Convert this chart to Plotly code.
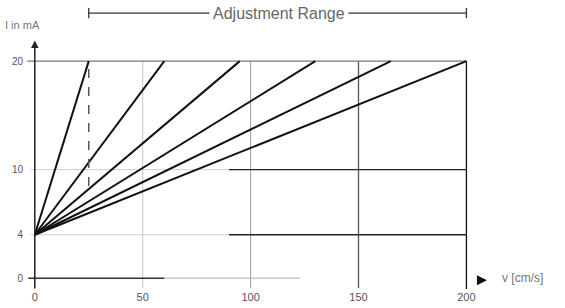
import plotly.graph_objects as go

# ---- data ----
i_start = 4                       # mA at v = 0
i_end = 20                        # mA at full scale
v_full_scale = [25, 60, 95, 130, 165, 200]   # cm/s, end point of each characteristic
dashed_v = 25
dashed_i = [8.5, 20]
x_ticks = [0, 50, 100, 150, 200]
x_tick_text = ["0", "50", "100", "150", "200"]
y_ticks = [0, 4, 10, 20]
y_tick_text = ["0", "4", "10", "20"]
adj_range = [25, 200]
adj_label = "Adjustment Range"
x_label = "v [cm/s]"
y_label = "I in mA"

FONT = "Liberation Sans, Arial, sans-serif"

fig = go.Figure()

# fan of characteristics
for v in v_full_scale:
    fig.add_trace(go.Scatter(x=[0, v], y=[i_start, i_end], mode="lines",
                             line=dict(color="#111", width=2), showlegend=False,
                             hoverinfo="skip"))

# dashed drop line
fig.add_trace(go.Scatter(x=[dashed_v, dashed_v], y=dashed_i, mode="lines",
                         line=dict(color="#555", width=1.5, dash="dash"),
                         showlegend=False, hoverinfo="skip"))

shapes = []
# vertical grid lines
vcolors = {50: "#c4c4c4", 100: "#9a9a9a", 150: "#555", 200: "#111"}
for xv in x_ticks[1:]:
    shapes.append(dict(type="line", xref="x", yref="y", x0=xv, x1=xv,
                       y0=-0.9 if xv != 200 else -1.0, y1=y_ticks[-1],
                       line=dict(color=vcolors[xv], width=1.3 if xv >= 150 else 1), layer="below"))
# horizontal grid lines
shapes.append(dict(type="line", xref="x", yref="y", x0=-3.5, x1=200, y0=20, y1=20,
                   line=dict(color="#777", width=1.3), layer="below"))
for yv in y_ticks[1:3]:
    shapes.append(dict(type="line", xref="x", yref="y", x0=-2, x1=90, y0=yv, y1=yv,
                       line=dict(color="#d0d0d0", width=1), layer="below"))
    shapes.append(dict(type="line", xref="x", yref="y", x0=90, x1=200, y0=yv, y1=yv,
                       line=dict(color="#222", width=1.3), layer="below"))
# x axis (faded in the original after ~120)
shapes.append(dict(type="line", xref="x", yref="y", x0=-3, x1=60, y0=0, y1=0,
                   line=dict(color="#333", width=1.5)))
shapes.append(dict(type="line", xref="x", yref="y", x0=60, x1=123, y0=0, y1=0,
                   line=dict(color="#bbb", width=1.2)))

# adjustment range bar
ay_paper = 1.082
shapes.append(dict(type="line", xref="x", yref="paper", x0=adj_range[0], x1=adj_range[1],
                   y0=ay_paper, y1=ay_paper, line=dict(color="#333", width=1.3)))
for xv in adj_range:
    shapes.append(dict(type="line", xref="x", yref="paper", x0=xv, x1=xv,
                       y0=ay_paper - 0.02, y1=ay_paper + 0.02, line=dict(color="#333", width=1.3)))

annotations = [
    # y axis with arrow
    dict(x=0, y=21.9, ax=0, ay=-1.1, xref="x", yref="y", axref="x", ayref="y",
         showarrow=True, arrowhead=2, arrowsize=1, arrowwidth=1.5, arrowcolor="#222", text=""),
    # x axis arrow stub
    dict(x=209.5, y=-0.2, ax=205, ay=-0.2, xref="x", yref="y", axref="x", ayref="y",
         showarrow=True, arrowhead=2, arrowsize=0.8, arrowwidth=2.5, arrowcolor="#111", text=""),
    dict(x=(adj_range[0] + adj_range[1]) / 2 + 0.5, y=ay_paper, xref="x", yref="paper",
         xanchor="center", yanchor="middle",
         text=adj_label, showarrow=False, bgcolor="white",
         font=dict(family=FONT, size=16, color="#666"), borderpad=3),
    dict(x=-0.045, y=1.035, xref="paper", yref="paper", xanchor="left", yanchor="middle",
         text=y_label, showarrow=False, font=dict(family=FONT, size=11, color="#777")),
    dict(x=1.025, y=0.043, xref="paper", yref="paper", xanchor="left", yanchor="middle",
         text=x_label, showarrow=False, font=dict(family=FONT, size=12, color="#777")),
]

fig.update_layout(
    width=565, height=308,
    margin=dict(l=24, r=77, t=34, b=19, autoexpand=False),
    paper_bgcolor="white", plot_bgcolor="white",
    shapes=shapes, annotations=annotations, showlegend=False,
    xaxis=dict(range=[-5, 210], tickvals=x_ticks, ticktext=x_tick_text, automargin=False,
               showgrid=False, zeroline=False, showline=False, ticks="",
               tickfont=dict(family=FONT, size=11, color="#555")),
    yaxis=dict(range=[-1, 22.5], tickvals=y_ticks, ticktext=y_tick_text, automargin=False,
               showgrid=False, zeroline=False, showline=False, ticks="",
               tickfont=dict(family=FONT, size=10, color="#555")),
)

fig.write_html("out.html", config={"displayModeBar": False},
               post_script="document.body.style.margin='0px';document.body.style.overflow='hidden';")
